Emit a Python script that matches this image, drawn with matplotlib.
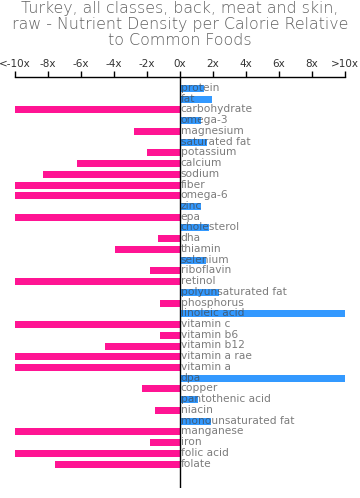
import matplotlib
matplotlib.use("Agg")
import matplotlib.pyplot as plt
import numpy as np

nutrients = ["protein", "fat", "carbohydrate", "omega-3", "magnesium", "saturated fat",
             "potassium", "calcium", "sodium", "fiber", "omega-6", "zinc", "epa",
             "cholesterol", "dha", "thiamin", "selenium", "riboflavin", "retinol",
             "polyunsaturated fat", "phosphorus", "linoleic acid", "vitamin c",
             "vitamin b6", "vitamin b12", "vitamin a rae", "vitamin a", "dpa", "copper",
             "pantothenic acid", "niacin", "monounsaturated fat", "manganese", "iron",
             "folic acid", "folate"]
values = [1.45, 1.92, -10, 1.27, -2.77, 1.62,
          -2.02, -6.26, -8.28, -10, -10, 1.27, -10,
          1.76, -1.33, -3.92, 1.58, -1.84, -10,
          2.36, -1.21, 10, -10,
          -1.21, -4.57, -10, -10, 10, -2.28,
          1.07, -1.52, 1.9, -10, -1.8,
          -10, -7.6]
tick_vals = [-10, -8, -6, -4, -2, 0, 2, 4, 6, 8, 10]
tick_labels = ["<-10x", "-8x", "-6x", "-4x", "-2x", "0x", "2x", "4x", "6x", "8x", ">10x"]

fig = plt.figure(figsize=(3.6, 4.98), dpi=100)
ax = fig.add_axes([15 / 360, 1 - 488 / 498, 330 / 360, 411 / 498])

y = np.arange(len(nutrients))
colors = ["#ff1493" if v < 0 else "#3399ff" for v in values]
ax.barh(y, values, height=0.65, color=colors, zorder=2)

# labels sit over the bars, slightly see-through like the original
for i, name in enumerate(nutrients):
    ax.text(0.05, i - 0.05, name, va="center", ha="left", fontsize=7.7,
            color="#444444", alpha=0.7, zorder=3)

ax.axvline(0, color="black", lw=1, zorder=4)
ax.set_xlim(-10, 10)
ax.set_ylim(37.23, -1.07)

for s in ["left", "right", "bottom"]:
    ax.spines[s].set_visible(False)
ax.spines["top"].set_linewidth(1)
ax.xaxis.tick_top()
ax.set_xticks(tick_vals)
ax.set_xticklabels(tick_labels, fontsize=7.5, color="#333333")
ax.tick_params(axis="x", length=4, width=1, pad=2)
ax.set_yticks([])

fig.text(0.5, 0.998, "Turkey, all classes, back, meat and skin,\nraw - Nutrient Density per Calorie Relative\nto Common Foods",
         ha="center", va="top", fontsize=11.4, color="#606060", linespacing=1.1,
         fontweight=200)

fig.savefig("out.png", dpi=100)
